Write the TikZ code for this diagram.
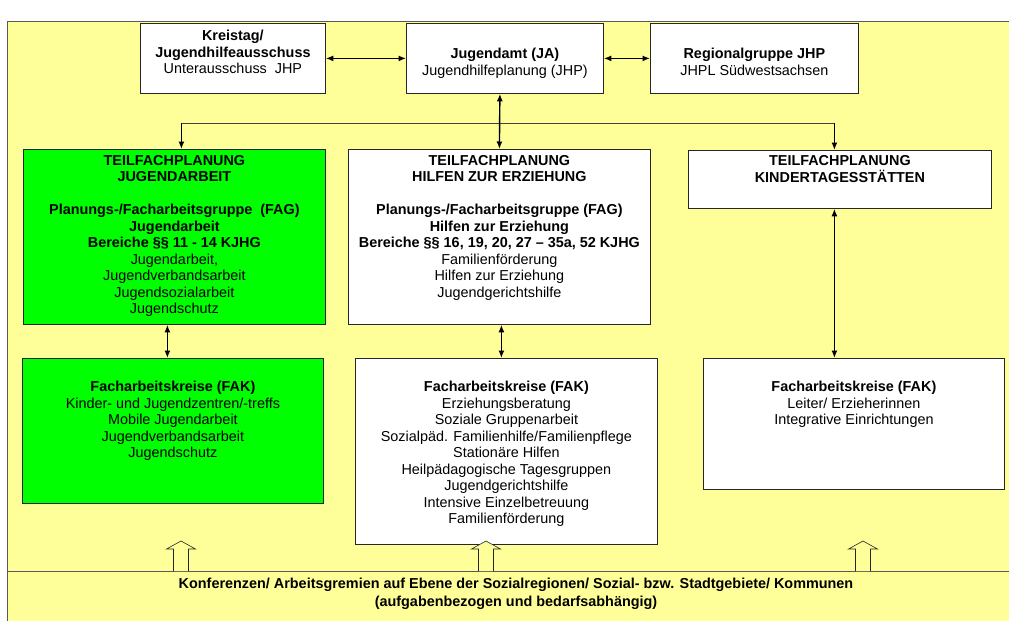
\documentclass[tikz,border=0pt]{standalone}
\usepackage{fontspec}
\setmainfont{Liberation Sans}
\usetikzlibrary{arrows.meta,positioning}
\definecolor{paleyellow}{HTML}{FFFF99}
\definecolor{limegreen}{HTML}{00FF00}

\begin{document}
\begin{tikzpicture}[x=1pt,y=-1pt,>={Latex[length=7.5pt,width=6pt]},
                    box/.style={draw=black!85, line width=0.8pt, fill=white, anchor=north west, inner sep=0pt},
                    greenbox/.style={box, fill=limegreen},
                    txt/.style={align=center, inner sep=0pt, font=\fontsize{14.4}{16.5}\selectfont},
                    link/.style={line width=1.4pt},
                    rail/.style={draw=black!75, line width=0.9pt}]
  \useasboundingbox (0,0) rectangle (1009,621);
  % frame
  \fill[paleyellow] (7,21) rectangle (1009,621);
  \draw[black!65, line width=0.8pt] (1009,21) -- (7,21) -- (7,621);
  \draw[black!65, line width=0.8pt] (7,571) -- (1009,571);

  % top row
  \node[box, minimum width=185pt, minimum height=70pt] (kt) at (140,23) {};
  \node[box, minimum width=197pt, minimum height=70pt] (ja) at (406,23) {};
  \node[box, minimum width=208pt, minimum height=70pt] (rg) at (650,23) {};
  \node[txt, below=7pt of kt.north] (kttext) {\textbf{Kreistag/}\\\textbf{Jugendhilfeausschuss}\\Unterausschuss\ \ JHP};
  \node[txt, below=25pt of ja.north] (jatext) {\textbf{Jugendamt (JA)}\\Jugendhilfeplanung (JHP)};
  \node[txt, below=25pt of rg.north] (rgtext) {\textbf{Regionalgruppe JHP}\\JHPL Südwestsachsen};

  % Teilfachplanungen
  \node[greenbox, minimum width=302pt, minimum height=175pt] (tfja) at (23,149) {};
  \node[box, minimum width=302pt, minimum height=175pt] (tfhz) at (348,149) {};
  \node[box, minimum width=303pt, minimum height=58pt] (tfkt) at (688,150) {};
  \node[txt, below=6pt of tfja.north] (tfjatext) {\textbf{TEILFACHPLANUNG}\\\textbf{JUGENDARBEIT}\\[16.5pt]
    \textbf{Planungs-/Facharbeitsgruppe\ \ (FAG)}\\\textbf{Jugendarbeit}\\\textbf{Bereiche §§ 11 - 14 KJHG}\\
    Jugendarbeit,\\Jugendverbandsarbeit\\Jugendsozialarbeit\\Jugendschutz};
  \node[txt, below=6pt of tfhz.north] (tfhztext) {\textbf{TEILFACHPLANUNG}\\\textbf{HILFEN ZUR ERZIEHUNG}\\[16.5pt]
    \textbf{Planungs-/Facharbeitsgruppe (FAG)}\\\textbf{Hilfen zur Erziehung}\\\textbf{Bereiche §§ 16, 19, 20, 27 – 35a, 52 KJHG}\\
    Familienförderung\\Hilfen zur Erziehung\\Jugendgerichtshilfe};
  \node[txt, below=5.5pt of tfkt.north] (tfkttext) {\textbf{TEILFACHPLANUNG}\\\textbf{KINDERTAGESSTÄTTEN}};

  % Facharbeitskreise
  \node[greenbox, minimum width=301pt, minimum height=145pt] (fakja) at (22,358) {};
  \node[box, minimum width=302pt, minimum height=186pt] (fakhz) at (355,358) {};
  \node[box, minimum width=301pt, minimum height=131pt] (fakkt) at (703,358) {};
  \node[txt, below=23pt of fakja.north] (fakjatext) {\textbf{Facharbeitskreise (FAK)}\\Kinder- und Jugendzentren/-treffs\\
    Mobile Jugendarbeit\\Jugendverbandsarbeit\\Jugendschutz};
  \node[txt, below=23pt of fakhz.north] (fakhztext) {\textbf{Facharbeitskreise (FAK)}\\Erziehungsberatung\\Soziale Gruppenarbeit\\
    Sozialpäd. Familienhilfe/Familienpflege\\Stationäre Hilfen\\Heilpädagogische Tagesgruppen\\
    Jugendgerichtshilfe\\Intensive Einzelbetreuung\\Familienförderung};
  \node[txt, below=23pt of fakkt.north] (fakkttext) {\textbf{Facharbeitskreise (FAK)}\\Leiter/ Erzieherinnen\\Integrative Einrichtungen};

  % conferences
  \node[txt, font=\fontsize{14.4}{18}\selectfont\bfseries] (band) at (516,594)
    {Konferenzen/ Arbeitsgremien auf Ebene der Sozialregionen/ Sozial- bzw. Stadtgebiete/ Kommunen\\(aufgabenbezogen und bedarfsabhängig)};

  % connections
  \coordinate (split) at ([xshift=-5pt]ja.south |- 0,123);
  \draw[link, <->] (kt) -- (ja);
  \draw[link, <->] (ja) -- (rg);
  \draw[rail] ([xshift=7pt]tfja.north |- split) -- ([xshift=-5.5pt]tfkt.north |- split);
  \draw[link, <->] ([xshift=-5pt]ja.south) -- (tfhz.north);
  \draw[link, ->] ([xshift=7pt]tfja.north |- split) -- ([xshift=7pt]tfja.north);
  \draw[link, ->] ([xshift=-5.5pt]tfkt.north |- split) -- ([xshift=-5.5pt]tfkt.north);
  \draw[link, <->] ([xshift=-7pt]tfja.south) -- ([xshift=-7pt]tfja.south |- fakja.north);
  \draw[link, <->] ([xshift=2pt]tfhz.south) -- ([xshift=2pt]tfhz.south |- fakhz.north);
  \draw[link, <->] ([xshift=-5.5pt]tfkt.south) -- ([xshift=-5.5pt]tfkt.south |- fakkt.north);

  % hollow arrows from the band
  \foreach \x in {181,486,863}
    \draw[fill=paleyellow, draw=black!85, line width=0.6pt]
      (\x-7.5,571) -- (\x-7.5,549) -- (\x-14.5,549) -- (\x,541) -- (\x+14.5,549) -- (\x+7.5,549) -- (\x+7.5,571);
\end{tikzpicture}
\end{document}
